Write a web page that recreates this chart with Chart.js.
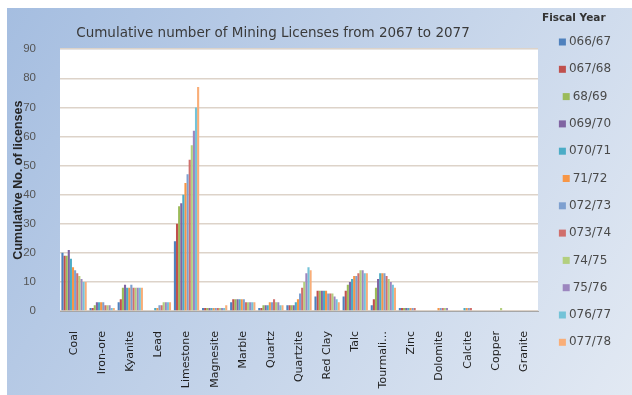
<!DOCTYPE html>
<html>
<head>
<meta charset="utf-8">
<script src="https://cdn.jsdelivr.net/npm/chart.js@4"></script>
<style>
  html, body { margin: 0; padding: 0; background: #fff; }
  #wrap { width: 632px; height: 395px; }
</style>
</head>
<body>
<div id="wrap"><canvas id="licenseChart" width="632" height="395"></canvas></div>
<script>
// minerals on the x axis
const minerals = ['Coal', 'Iron-ore', 'Kyanite', 'Lead', 'Limestone', 'Magnesite', 'Marble', 'Quartz',
  'Quartzite', 'Red Clay', 'Talc', 'Tourmali\u2026', 'Zinc', 'Dolomite', 'Calcite', 'Copper', 'Granite'];

const fiscalYears = ['066/67', '067/68', '68/69', '069/70', '070/71', '71/72',
  '072/73', '073/74', '74/75', '75/76', '076/77', '077/78'];

const yTicks = [0, 10, 20, 30, 40, 50, 60, 70, 80, 90];

// cumulative licences per mineral, one array per fiscal year
const fy6667 = [20, 1, 3, 0, 24, 1, 3, 1, 2, 5, 5, 2, 1, 0, 0, 0, 0];
const fy6768 = [19, 1, 4, 0, 30, 1, 4, 1, 2, 7, 7, 4, 1, 0, 0, 0, 0];
const fy6869 = [19, 2, 8, 0, 36, 1, 4, 2, 2, 7, 9, 8, 1, 0, 0, 0, 0];
const fy6970 = [21, 3, 9, 0, 37, 1, 4, 2, 2, 7, 10, 11, 1, 0, 0, 0, 0];
const fy7071 = [18, 3, 8, 1, 40, 1, 4, 2, 3, 7, 11, 13, 1, 0, 1, 0, 0];
const fy7172 = [15, 3, 8, 1, 44, 1, 4, 3, 4, 7, 12, 13, 1, 1, 1, 0, 0];
const fy7273 = [14, 3, 9, 2, 47, 1, 4, 3, 6, 6, 12, 13, 1, 1, 1, 0, 0];
const fy7374 = [13, 2, 8, 2, 52, 1, 3, 4, 8, 6, 13, 12, 1, 1, 1, 0, 0];
const fy7475 = [12, 2, 8, 3, 57, 1, 3, 3, 10, 6, 14, 11, 0, 1, 0, 1, 0];
const fy7576 = [11, 2, 8, 3, 62, 1, 3, 3, 13, 5, 14, 10, 0, 1, 0, 0, 0];
const fy7677 = [10, 1, 8, 3, 70, 1, 3, 2, 15, 4, 13, 9, 0, 0, 0, 0, 0];
const fy7778 = [10, 1, 8, 3, 77, 2, 3, 2, 14, 3, 13, 8, 0, 0, 0, 0, 0];

const seriesValues = [fy6667, fy6768, fy6869, fy6970, fy7071, fy7172,
  fy7273, fy7374, fy7475, fy7576, fy7677, fy7778];

const seriesColors = ['#4f81bd', '#c0504d', '#9bbb59', '#8064a2', '#4bacc6', '#f79646',
  '#7ea0d0', '#d06f6c', '#b3cf7e', '#9c86bf', '#74c3d8', '#f9ae78'];

const datasets = fiscalYears.map((fy, i) => ({
  label: fy,
  data: seriesValues[i],
  backgroundColor: seriesColors[i],
  borderWidth: 0,
  categoryPercentage: 0.9,
  barPercentage: 1.0
}));

// blue panel behind everything, white plot area
const panelBg = {
  id: 'panelBg',
  beforeDraw(chart) {
    const ctx = chart.ctx;
    const a = chart.chartArea;
    ctx.save();
    ctx.fillStyle = '#ffffff';
    ctx.fillRect(0, 0, chart.width, chart.height);
    const g = ctx.createLinearGradient(0, 0, chart.width, chart.height);
    g.addColorStop(0, '#a4bde0');
    g.addColorStop(0.55, '#c6d5ea');
    g.addColorStop(1, '#e2e9f3');
    ctx.fillStyle = g;
    ctx.fillRect(7, 8, chart.width - 7, chart.height - 8);
    ctx.fillStyle = '#ffffff';
    ctx.fillRect(a.left, a.top, a.right - a.left, a.bottom - a.top);
    ctx.restore();
  }
};

// legend on the right with "Fiscal Year" heading
const sideLegend = {
  id: 'sideLegend',
  afterDraw(chart) {
    const ctx = chart.ctx;
    ctx.save();
    ctx.textBaseline = 'middle';
    ctx.font = 'bold 10.5px "DejaVu Sans", sans-serif';
    ctx.fillStyle = '#333333';
    ctx.textAlign = 'left';
    ctx.fillText('Fiscal Year', 542, 18);
    ctx.font = '12px "DejaVu Sans", sans-serif';
    const cx = 585;
    chart.data.datasets.forEach((ds, i) => {
      const y = 42 + i * 27.3;
      const tw = ctx.measureText(ds.label).width;
      const x0 = cx - (7 + 3 + tw) / 2;
      ctx.fillStyle = ds.backgroundColor;
      ctx.fillRect(x0, y - 3.5, 7, 7);
      ctx.fillStyle = '#4a4a4a';
      ctx.fillText(ds.label, x0 + 10, y);
    });
    ctx.restore();
  }
};

new Chart(document.getElementById('licenseChart'), {
  type: 'bar',
  data: { labels: minerals, datasets: datasets },
  options: {
    responsive: false,
    animation: false,
    layout: { padding: { left: 8, right: 94, top: 0, bottom: 0 } },
    plugins: {
      legend: { display: false },
      tooltip: { enabled: false },
      title: {
        display: true,
        text: 'Cumulative number of Mining Licenses from 2067 to 2077',
        color: '#3a3a3a',
        font: { family: '"DejaVu Sans", sans-serif', size: 13.5, weight: 'normal' },
        padding: { top: 25, bottom: 8 }
      }
    },
    scales: {
      x: {
        grid: { display: false },
        border: { color: '#a6a6a6' },
        ticks: {
          color: '#1f1f1f',
          autoSkip: false,
          minRotation: 90,
          maxRotation: 90,
          padding: 12,
          font: { family: '"DejaVu Sans", sans-serif', size: 11 }
        },
        afterFit(scale) { scale.height = 84; }
      },
      y: {
        min: 0,
        max: 90,
        afterBuildTicks(scale) { scale.ticks = yTicks.map(v => ({ value: v })); },
        grid: { color: '#ddd3c9', lineWidth: 1.5, drawTicks: false },
        border: { display: false },
        ticks: {
          color: '#555555',
          padding: 24,
          font: { family: '"Liberation Sans", Arial, sans-serif', size: 11.5 }
        },
        title: {
          display: true,
          text: 'Cumulative No. of licenses',
          color: '#262626',
          padding: { top: 3, bottom: 0 },
          font: { family: '"Liberation Sans", Arial, sans-serif', size: 12.5, weight: 'bold' }
        },
        afterFit(scale) { scale.width = 52; }
      }
    }
  },
  plugins: [panelBg, sideLegend]
});
</script>
</body>
</html>
